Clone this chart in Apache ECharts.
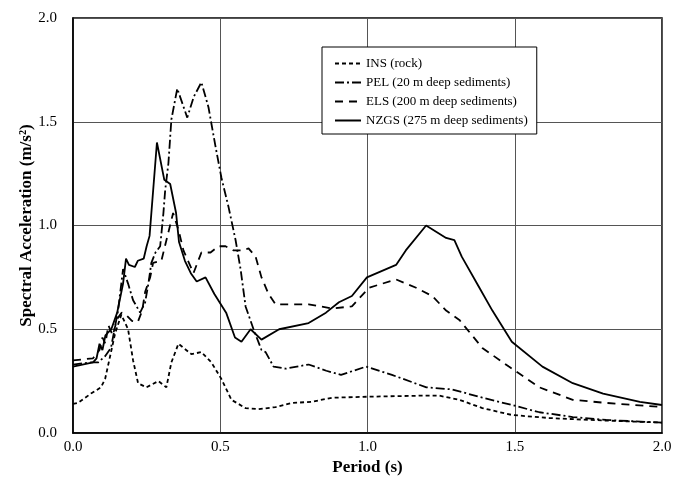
<!DOCTYPE html>
<html>
<head>
<meta charset="utf-8">
<script src="https://cdn.jsdelivr.net/npm/echarts@6/dist/echarts.min.js"></script>
<style>html,body{margin:0;padding:0;background:#fff}#c{width:683px;height:482px}</style>
</head>
<body>
<div id="c"></div>
<script>
// Tick values
const xTicks = [0, 0.5, 1.0, 1.5, 2.0];
const yTicks = [0, 0.5, 1.0, 1.5, 2.0];
const seriesNames = ['INS (rock)', 'PEL (20 m deep sediments)', 'ELS (200 m deep sediments)', 'NZGS (275 m deep sediments)'];

// INS (rock)
const insPeriod = [0, 0.017, 0.061, 0.095, 0.109, 0.126, 0.143, 0.164, 0.187, 0.204, 0.221, 0.249, 0.29, 0.317, 0.334, 0.358, 0.402, 0.436, 0.47, 0.504, 0.538, 0.586, 0.63, 0.688, 0.743, 0.81, 0.879, 1.005, 1.186, 1.244, 1.312, 1.39, 1.49, 1.618, 1.755, 2.0];
const insAcc    = [0.14, 0.145, 0.19, 0.22, 0.26, 0.37, 0.48, 0.57, 0.50, 0.35, 0.24, 0.22, 0.25, 0.22, 0.34, 0.43, 0.38, 0.39, 0.34, 0.26, 0.16, 0.12, 0.115, 0.125, 0.145, 0.15, 0.17, 0.175, 0.18, 0.18, 0.16, 0.12, 0.087, 0.072, 0.063, 0.05];

// PEL (20 m deep sediments)
const pelPeriod = [0, 0.06, 0.085, 0.109, 0.129, 0.153, 0.17, 0.187, 0.204, 0.228, 0.245, 0.256, 0.266, 0.28, 0.296, 0.307, 0.313, 0.324, 0.334, 0.354, 0.388, 0.41, 0.436, 0.46, 0.484, 0.504, 0.528, 0.552, 0.569, 0.586, 0.613, 0.64, 0.654, 0.681, 0.722, 0.80, 0.86, 0.91, 0.995, 1.083, 1.2, 1.288, 1.39, 1.49, 1.584, 1.697, 1.81, 2.0];
const pelAcc    = [0.33, 0.34, 0.34, 0.37, 0.41, 0.59, 0.79, 0.72, 0.64, 0.58, 0.63, 0.72, 0.82, 0.87, 0.90, 1.06, 1.17, 1.30, 1.51, 1.66, 1.52, 1.62, 1.69, 1.57, 1.38, 1.23, 1.09, 0.93, 0.79, 0.61, 0.50, 0.40, 0.39, 0.32, 0.31, 0.33, 0.30, 0.28, 0.32, 0.28, 0.22, 0.21, 0.17, 0.135, 0.10, 0.077, 0.063, 0.05];

// ELS (200 m deep sediments)
const elsPeriod = [0, 0.068, 0.09, 0.10, 0.11, 0.12, 0.135, 0.15, 0.165, 0.18, 0.20, 0.22, 0.235, 0.245, 0.262, 0.272, 0.30, 0.34, 0.358, 0.375, 0.409, 0.436, 0.467, 0.494, 0.518, 0.545, 0.579, 0.596, 0.62, 0.64, 0.664, 0.688, 0.80, 0.879, 0.947, 1.005, 1.097, 1.165, 1.22, 1.267, 1.312, 1.39, 1.48, 1.584, 1.697, 1.81, 2.0];
const elsAcc    = [0.35, 0.36, 0.40, 0.46, 0.43, 0.52, 0.47, 0.55, 0.58, 0.57, 0.54, 0.535, 0.59, 0.68, 0.75, 0.82, 0.83, 1.06, 0.98, 0.88, 0.77, 0.87, 0.87, 0.90, 0.90, 0.88, 0.88, 0.89, 0.85, 0.75, 0.67, 0.62, 0.62, 0.60, 0.61, 0.70, 0.74, 0.70, 0.66, 0.59, 0.545, 0.41, 0.32, 0.22, 0.16, 0.145, 0.125];

// NZGS (275 m deep sediments)
const nzgsPeriod = [0, 0.068, 0.08, 0.09, 0.10, 0.11, 0.13, 0.15, 0.17, 0.18, 0.19, 0.21, 0.22, 0.24, 0.25, 0.26, 0.285, 0.31, 0.33, 0.35, 0.36, 0.38, 0.40, 0.42, 0.45, 0.48, 0.52, 0.55, 0.572, 0.603, 0.64, 0.70, 0.80, 0.859, 0.903, 0.947, 0.998, 1.097, 1.13, 1.199, 1.267, 1.295, 1.32, 1.38, 1.424, 1.49, 1.594, 1.697, 1.80, 1.925, 2.0];
const nzgsAcc    = [0.32, 0.34, 0.36, 0.43, 0.40, 0.47, 0.50, 0.58, 0.72, 0.84, 0.81, 0.80, 0.83, 0.84, 0.90, 0.95, 1.40, 1.22, 1.20, 1.06, 0.92, 0.83, 0.77, 0.73, 0.75, 0.67, 0.58, 0.46, 0.44, 0.50, 0.45, 0.50, 0.53, 0.58, 0.63, 0.66, 0.75, 0.81, 0.88, 1.00, 0.94, 0.93, 0.85, 0.70, 0.59, 0.44, 0.32, 0.24, 0.19, 0.15, 0.135];

const pairs = (xs, ys) => xs.map((x, i) => [x, ys[i]]);
const FONT = '"Liberation Serif", "DejaVu Serif", serif';

const mk = (name, xs, ys, type) => ({
  name: name,
  type: 'line',
  data: pairs(xs, ys),
  showSymbol: false,
  symbol: 'none',
  smooth: false,
  silent: true,
  color: '#000',
  lineStyle: { color: '#000', width: 1.8, type: type },
  z: 3
});

const chart = echarts.init(document.getElementById('c'), null, { renderer: 'canvas' });
chart.setOption({
  animation: false,
  backgroundColor: '#fff',
  grid: { left: 73, right: 21, top: 18, bottom: 49, containLabel: false, outerBoundsMode: 'none', show: true, borderColor: '#000', borderWidth: 1.5, backgroundColor: 'transparent' },
  legend: {
    orient: 'vertical',
    left: 322, top: 47,
    padding: [10, 9, 7, 12],
    itemGap: 6,
    itemWidth: 26, itemHeight: 12,
    backgroundColor: '#fff',
    borderColor: '#000', borderWidth: 1,
    borderRadius: 0,
    itemStyle: { opacity: 0 },
    textStyle: { fontFamily: FONT, fontSize: 13, color: '#000' },
    data: seriesNames
  },
  xAxis: {
    type: 'value', min: xTicks[0], max: xTicks[xTicks.length - 1], interval: 0.5,
    name: 'Period (s)', nameLocation: 'middle', nameGap: 26, nameMoveOverlap: false,
    nameTextStyle: { fontFamily: FONT, fontSize: 17, fontWeight: 'bold', color: '#000' },
    axisLine: { show: true, lineStyle: { color: '#000', width: 1.5 } },
    axisTick: { show: false },
    axisLabel: { fontFamily: FONT, fontSize: 15, color: '#000', margin: 7, formatter: v => v.toFixed(1) },
    splitLine: { show: true, lineStyle: { color: '#555', width: 1 } }
  },
  yAxis: {
    type: 'value', min: yTicks[0], max: yTicks[yTicks.length - 1], interval: 0.5,
    name: 'Spectral Acceleration (m/s²)', nameLocation: 'middle', nameGap: 38, nameRotate: 90, nameMoveOverlap: false,
    nameTextStyle: { fontFamily: FONT, fontSize: 17, fontWeight: 'bold', color: '#000' },
    axisLine: { show: true, lineStyle: { color: '#000', width: 1.5 } },
    axisTick: { show: false },
    axisLabel: { fontFamily: FONT, fontSize: 15, color: '#000', margin: 16, formatter: v => v.toFixed(1) },
    splitLine: { show: true, lineStyle: { color: '#555', width: 1 } }
  },
  series: [
    mk(seriesNames[0], insPeriod, insAcc, [4, 3]),
    mk(seriesNames[1], pelPeriod, pelAcc, [9, 3, 2, 3]),
    mk(seriesNames[2], elsPeriod, elsAcc, [8, 6]),
    mk(seriesNames[3], nzgsPeriod, nzgsAcc, 'solid')
  ]
});
</script>
</body>
</html>
